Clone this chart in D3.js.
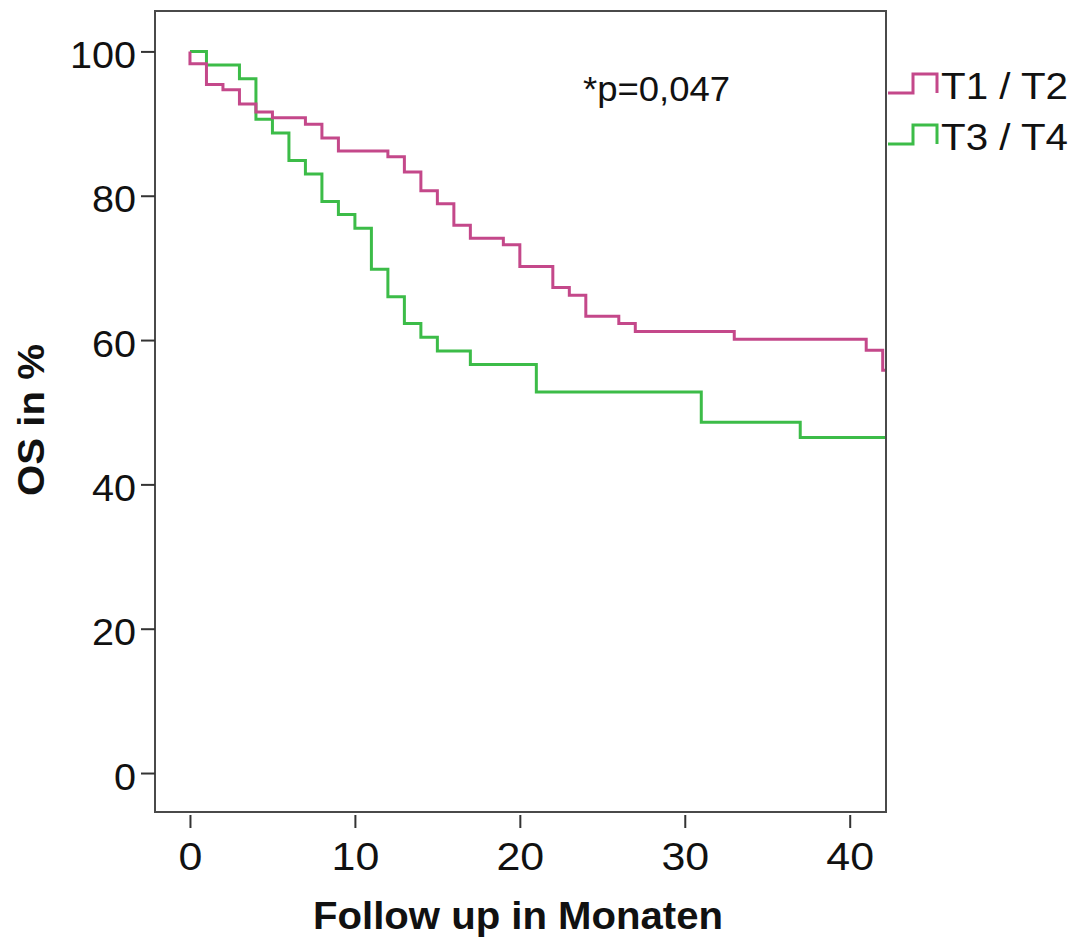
<!DOCTYPE html>
<html>
<head>
<meta charset="utf-8">
<script src="https://cdn.jsdelivr.net/npm/d3@7"></script>
<style>
  html, body { margin: 0; padding: 0; background: #fff; }
  svg { display: block; font-family: "Liberation Sans", Arial, sans-serif; }
</style>
</head>
<body>
<svg id="chart" width="1073" height="941"></svg>
<script>
// Kaplan–Meier overall survival by T stage (months of follow-up)
const groups = ["T1 / T2", "T3 / T4"];
const colors = ["#c4488a", "#3cbc48"];

// event times (months) and survival (%) right after each event
const t12Times = [0, 1, 2, 3, 4, 5, 7, 8, 9, 12, 13, 14, 15, 16, 17, 19, 20, 22, 23, 24, 26, 27, 33, 41, 42];
const t12Surv  = [98.3, 95.4, 94.7, 92.7, 91.6, 90.8, 89.9, 88.0, 86.2, 85.4, 83.3, 80.7, 78.9, 75.9, 74.1, 73.2, 70.2, 67.3, 66.2, 63.3, 62.3, 61.2, 60.1, 58.6, 55.8];

const t34Times = [1, 3, 4, 5, 6, 7, 8, 9, 10, 11, 12, 13, 14, 15, 17, 21, 31, 37];
const t34Surv  = [98.1, 96.2, 90.6, 88.7, 84.9, 83.0, 79.2, 77.4, 75.5, 69.8, 66.0, 62.3, 60.4, 58.5, 56.6, 52.8, 48.6, 46.5];

const followEnd = 42.2;
const xTicks = [0, 10, 20, 30, 40];
const yTicks = [0, 20, 40, 60, 80, 100];
const pLabel = "*p=0,047";
const xTitle = "Follow up in Monaten";
const yTitle = "OS in %";

const svg = d3.select("#chart");
const frame = { left: 155, top: 11, right: 886, bottom: 812 };

const x = d3.scaleLinear().domain([-2.12, followEnd]).range([frame.left, frame.right]);
const y = d3.scaleLinear().domain([-5.4, 105.6]).range([frame.bottom, frame.top]);

// stretch a text element horizontally by a factor
function widen(sel, k) {
  sel.each(function () {
    const len = this.getComputedTextLength();
    d3.select(this).attr("textLength", len * k).attr("lengthAdjust", "spacingAndGlyphs");
  });
}

// survival curves
function stepPoints(times, surv) {
  const pts = [{ t: 0, s: 100 }];
  times.forEach((t, i) => pts.push({ t, s: surv[i] }));
  pts.push({ t: followEnd, s: surv[surv.length - 1] });
  return pts;
}
const series = [stepPoints(t12Times, t12Surv), stepPoints(t34Times, t34Surv)];

const line = d3.line().x(d => x(d.t)).y(d => y(d.s)).curve(d3.curveStepAfter);

const clip = svg.append("clipPath").attr("id", "plotclip")
  .append("rect").attr("x", frame.left).attr("y", frame.top)
  .attr("width", frame.right - frame.left + 1).attr("height", frame.bottom - frame.top);

const plot = svg.append("g").attr("clip-path", "url(#plotclip)");
// draw T3/T4 first so T1/T2 sits on top where they overlap
[1, 0].forEach(i => {
  plot.append("path")
    .datum(series[i])
    .attr("d", line)
    .attr("fill", "none")
    .attr("stroke", colors[i])
    .attr("stroke-width", 3)
    .attr("stroke-linejoin", "miter");
});

// frame
svg.append("rect")
  .attr("x", frame.left).attr("y", frame.top)
  .attr("width", frame.right - frame.left).attr("height", frame.bottom - frame.top)
  .attr("fill", "none").attr("stroke", "#4a4a4a").attr("stroke-width", 2);

// y axis
const yAxis = svg.append("g")
  .attr("transform", `translate(${frame.left},0)`)
  .call(d3.axisLeft(y).tickValues(yTicks).tickSize(14).tickPadding(5));
yAxis.select(".domain").remove();
yAxis.selectAll(".tick line").attr("stroke", "#333").attr("stroke-width", 2);
yAxis.selectAll(".tick text")
  .attr("font-size", 36).attr("fill", "#111")
  .attr("font-family", "Liberation Sans, Arial, sans-serif")
  .attr("dy", "0.45em")
  .call(widen, 1.1);

// x axis (ticks sit slightly below the frame)
const xAxis = svg.append("g")
  .attr("transform", `translate(0,${frame.bottom + 3})`)
  .call(d3.axisBottom(x).tickValues(xTicks).tickSize(13).tickPadding(14));
xAxis.select(".domain").remove();
xAxis.selectAll(".tick line").attr("stroke", "#333").attr("stroke-width", 2);
xAxis.selectAll(".tick text")
  .attr("font-size", 39).attr("fill", "#111")
  .attr("font-family", "Liberation Sans, Arial, sans-serif")
  .call(widen, 1.1);

// axis titles
svg.append("text")
  .attr("x", 518).attr("y", 929)
  .attr("text-anchor", "middle")
  .attr("font-size", 38).attr("font-weight", "bold").attr("fill", "#111")
  .text(xTitle)
  .attr("textLength", 410).attr("lengthAdjust", "spacingAndGlyphs");

svg.append("text")
  .attr("transform", "translate(44,420) rotate(-90)")
  .attr("text-anchor", "middle")
  .attr("font-size", 36).attr("font-weight", "bold").attr("fill", "#111")
  .text(yTitle)
  .attr("textLength", 152).attr("lengthAdjust", "spacingAndGlyphs");

// log-rank p value
svg.append("text")
  .attr("x", 583).attr("y", 101)
  .attr("font-size", 35).attr("fill", "#111")
  .text(pLabel)
  .attr("textLength", 147).attr("lengthAdjust", "spacingAndGlyphs");

// legend
const legend = svg.append("g");
groups.forEach((g, i) => {
  const base = 93 + i * 51;
  legend.append("path")
    .attr("d", `M888,${base} H913 V${base - 19} H937 V${base}`)
    .attr("fill", "none").attr("stroke", colors[i]).attr("stroke-width", 3);
  legend.append("text")
    .attr("x", 941).attr("y", base + 6)
    .attr("font-size", 37).attr("fill", "#111")
    .text(g)
    .attr("textLength", 127).attr("lengthAdjust", "spacingAndGlyphs");
});
</script>
</body>
</html>
